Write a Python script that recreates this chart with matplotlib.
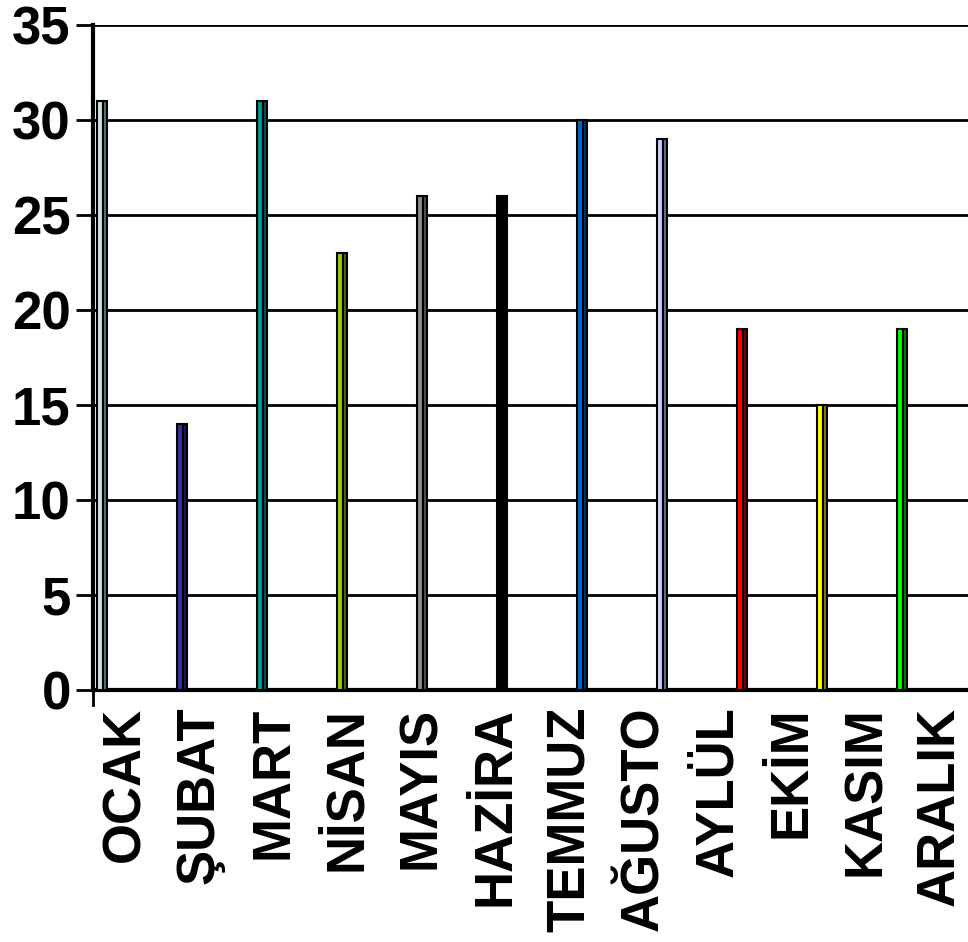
import matplotlib.pyplot as plt
import numpy as np

# monthly values
months = ['OCAK', 'ŞUBAT', 'MART', 'NİSAN', 'MAYIS', 'HAZİRA',
          'TEMMUZ', 'AĞUSTO', 'AYLÜL', 'EKİM', 'KASIM', 'ARALIK']
values = [31, 14, 31, 23, 26, 26, 30, 29, 19, 15, 19, 0]
face_colors = ['#c6e6e6', '#333399', '#009999', '#99cc00', '#8c8c8c', '#000000',
               '#0066cc', '#ccccff', '#ff0000', '#ffff00', '#00ff00', '#ffffff']
side_colors = ['#5a7070', '#1a1a5a', '#005555', '#556600', '#505050', '#000000',
               '#003366', '#6a6a8a', '#800000', '#808000', '#008000', '#ffffff']
yticks = [0, 5, 10, 15, 20, 25, 30, 35]

plt.rcParams['font.family'] = ['Liberation Sans', 'DejaVu Sans']

fig = plt.figure(figsize=(9.68, 9.42), dpi=100)
ax = fig.add_axes([0.0961, 0.2675, 0.904, 0.706])

x = np.arange(len(months))
w_front = 0.08
w_side = 0.04
# front face and darker side face to mimic the 3D bars
ax.bar(x - w_side / 2 + 0.02, values, width=w_front, color=face_colors,
       edgecolor='black', linewidth=1.5, zorder=3)
ax.bar(x + w_front / 2 + 0.02, values, width=w_side, color=side_colors,
       edgecolor='black', linewidth=1.5, zorder=3)

ax.set_ylim(0, 35)
ax.set_xlim(-0.09, 10.85)
ax.set_yticks(yticks)
ax.set_yticklabels([str(t) for t in yticks], fontsize=38, fontweight='bold')
ax.yaxis.grid(True, color='black', linewidth=2)
ax.set_axisbelow(True)
ax.tick_params(axis='y', length=12, width=2, pad=4)

# category labels sit a bit right of each bar
label_pos = 0.3125 + 0.926 * x
ax.set_xticks(label_pos)
ax.set_xticklabels(months, rotation=90, fontsize=38, fontweight='bold', va='top', ha='center')
ax.tick_params(axis='x', length=0, pad=12)

for side in ['top', 'right']:
    ax.spines[side].set_visible(False)
ax.spines['left'].set_linewidth(3)
ax.spines['bottom'].set_linewidth(3)
ax.plot([-0.09, -0.09], [0, -0.8], color='black', linewidth=2, clip_on=False)

fig.savefig('out.png', dpi=100)
